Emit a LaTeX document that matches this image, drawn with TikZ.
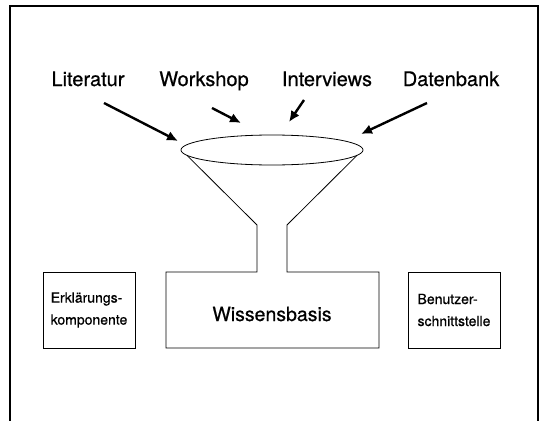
\documentclass[tikz,border=0pt]{standalone}
\usepackage{fontspec}
\setmainfont{TeX Gyre Heros}[FakeBold=0.6]
\usetikzlibrary{arrows.meta}

\begin{document}
\begin{tikzpicture}[x=1pt,y=-1pt,
  quelle/.style={anchor=base,inner sep=0pt,font=\fontsize{20}{24}\selectfont},
  pfeil/.style={line width=2.4pt,-{Latex[length=11pt,width=10pt]}},
  seitenbox/.style={draw,line width=0.9pt,minimum width=92pt,minimum height=76pt,
    align=left,font=\fontsize{14}{22}\selectfont}]
\useasboundingbox (0,0) rectangle (540,420);
\draw[line width=1.8pt] (10,430)--(10,6)--(538,6)--(538,430);
\node[quelle] (lit) at (88,86) {Literatur};
\node[quelle] (work) at (204,86) {Workshop};
\node[quelle] (inter) at (327,86) {Interviews};
\node[quelle] (daten) at (451,86) {Datenbank};
\coordinate (lit-a) at (104,103);
\coordinate (lit-b) at (178,141);
\coordinate (work-a) at (212,108);
\coordinate (work-b) at (241,123);
\coordinate (inter-a) at (304,100);
\coordinate (inter-b) at (289,122);
\coordinate (daten-a) at (427,103);
\coordinate (daten-b) at (361,134);
\draw[pfeil] (lit-a)--(lit-b);
\draw[pfeil] (work-a)--(work-b);
\draw[pfeil] (inter-a)--(inter-b);
\draw[pfeil] (daten-a)--(daten-b);
\draw[line width=0.8pt] (272,150) ellipse [x radius=91pt,y radius=15pt];
\draw[line width=0.8pt] (187,155.4)--(257,225)--(257,272)--(166,272)--(166,348)
  --(379,348)--(379,272)--(287,272)--(287,225)--(357,155.4);
\node[anchor=base,inner sep=0pt,font=\fontsize{19.5}{24}\selectfont] (wb) at (272,321) {Wissensbasis};
\node[seitenbox] (erkl) at (89,310) {Erklärungs-\\komponente};
\node[seitenbox] (benu) at (454,310) {Benutzer-\\schnittstelle};
\end{tikzpicture}
\end{document}
